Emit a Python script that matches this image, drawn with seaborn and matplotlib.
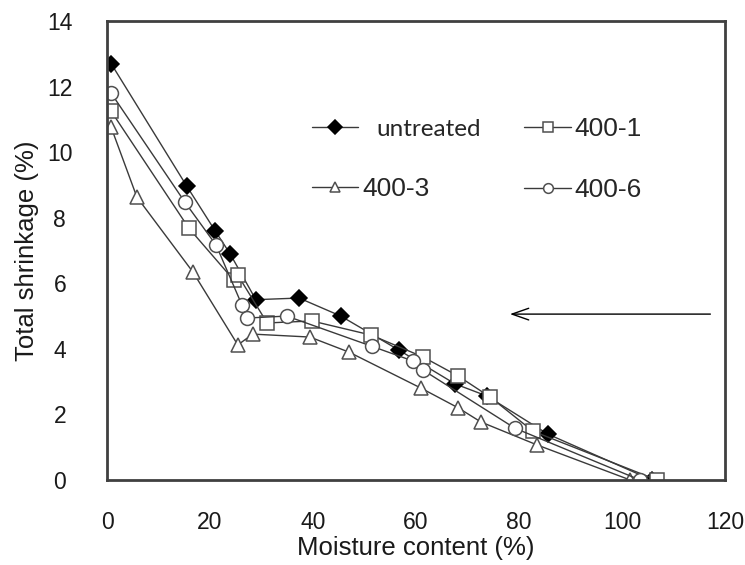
import matplotlib
matplotlib.use("Agg")
import matplotlib.pyplot as plt
import matplotlib.transforms as mtransforms
import seaborn as sns
import pandas as pd

# Data
untreated_x = [0.8, 15.5, 21.0, 23.9, 28.9, 37.3, 45.4, 56.7, 67.6, 73.8, 85.6, 105.8]
untreated_y = [12.7, 8.96, 7.6, 6.9, 5.5, 5.55, 5.0, 3.96, 2.93, 2.56, 1.40, 0.0]

s4001_x = [0.8, 15.9, 24.6, 25.4, 31.1, 39.8, 51.3, 61.4, 68.2, 74.4, 82.7, 106.8]
s4001_y = [11.25, 7.68, 6.1, 6.25, 4.79, 4.85, 4.42, 3.75, 3.17, 2.53, 1.49, 0.0]

s4003_x = [0.8, 5.8, 16.7, 25.4, 28.3, 39.4, 47.0, 61.0, 68.2, 72.6, 83.5, 101.6]
s4003_y = [10.76, 8.63, 6.34, 4.12, 4.45, 4.36, 3.9, 2.8, 2.2, 1.77, 1.07, 0.0]

s4006_x = [0.8, 15.1, 21.2, 26.2, 27.2, 34.9, 51.4, 59.4, 61.4, 79.2, 103.5]
s4006_y = [11.8, 8.48, 7.16, 5.34, 4.94, 5.0, 4.08, 3.63, 3.35, 1.58, 0.0]

x_ticks = [0, 20, 40, 60, 80, 100, 120]
y_ticks = [0, 2, 4, 6, 8, 10, 12, 14]

sns.set_theme(style="white")
plt.rcParams["font.family"] = ["Liberation Sans", "DejaVu Sans"]

fig = plt.figure(figsize=(7.45, 5.65), dpi=100)
ax = fig.add_axes([107 / 745, 85 / 565, (725 - 107) / 745, (480 - 21) / 565])

line_col = "#3a3a3a"
edge_col = "#505050"
text_col = "#1a1a1a"

series = [
    ("untreated", untreated_x, untreated_y, "D", dict(markerfacecolor="black", markeredgecolor="black", markersize=8)),
    ("400-3", s4003_x, s4003_y, "^", dict(markerfacecolor="white", markeredgecolor=edge_col, markersize=10)),
    ("400-1", s4001_x, s4001_y, "s", dict(markerfacecolor="white", markeredgecolor=edge_col, markersize=10)),
    ("400-6", s4006_x, s4006_y, "o", dict(markerfacecolor="white", markeredgecolor=edge_col, markersize=10)),
]

for name, xs, ys, mk, kw in series:
    df = pd.DataFrame({"x": xs, "y": ys})
    sns.lineplot(data=df, x="x", y="y", ax=ax, sort=False, estimator=None,
                 color=line_col, linewidth=1.0, marker=mk, markeredgewidth=1.1,
                 label=name, **kw)

ax.set_xlim(0, 120)
ax.set_ylim(0, 14)
ax.set_xticks(x_ticks)
ax.set_yticks(y_ticks)
ax.tick_params(axis="both", direction="in", length=6, width=1.2, color="#404040",
               labelsize=16.5, labelcolor=text_col, top=False, right=False)
ax.tick_params(axis="x", pad=22)
ax.tick_params(axis="y", pad=34)
for lab in ax.get_yticklabels():
    lab.set_horizontalalignment("center")
for sp in ax.spines.values():
    sp.set_color("#404040")
    sp.set_linewidth(2)
    sp.set_visible(True)

ax.set_xlabel("Moisture content (%)", fontsize=18.5, color=text_col, labelpad=2)
ax.set_ylabel("Total shrinkage (%)", fontsize=18.5, color=text_col, labelpad=6)

leg = ax.legend(ncol=2, frameon=False, loc="upper left", bbox_to_anchor=(0.31, 0.82),
                fontsize=19, handlelength=1.75, handletextpad=0.15, columnspacing=2.2,
                labelspacing=1.4, borderpad=0.0)
for t in leg.get_texts():
    if t.get_text() == "untreated":
        t.set_fontfamily(["Lato", "DejaVu Sans"])
        t.set_fontsize(17.5)
        t.set_transform(t.get_transform() + mtransforms.Affine2D().translate(14, 0))
for h in leg.legend_handles:
    h.set_markersize(7)

ax.annotate("", xy=(77.7, 5.06), xytext=(117.7, 5.06),
            arrowprops=dict(arrowstyle="->,head_length=1.0,head_width=0.35",
                            color="black", lw=1.0))

fig.savefig("out.png", dpi=100)
